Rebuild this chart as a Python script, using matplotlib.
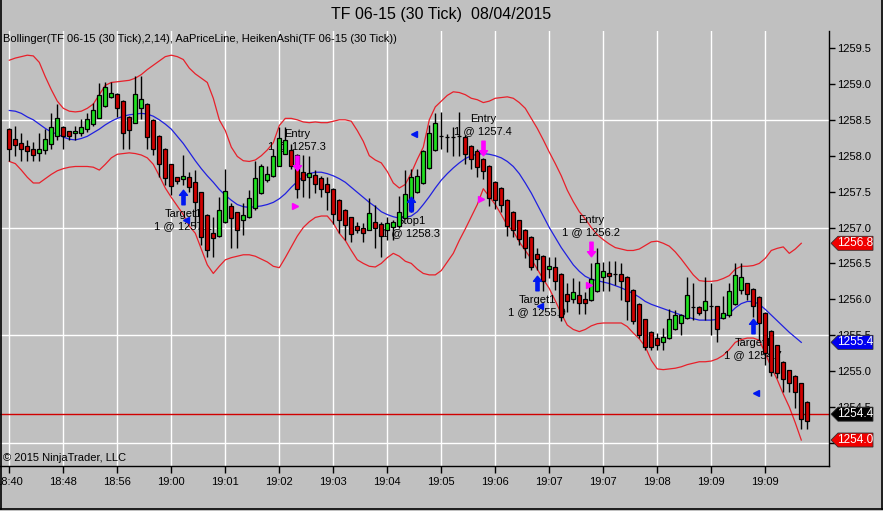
import matplotlib
matplotlib.use("Agg")
import matplotlib.pyplot as plt
import matplotlib.transforms as mtransforms
from matplotlib.path import Path
from matplotlib.patches import Polygon
from matplotlib.lines import Line2D
import numpy as np

plt.rcParams['font.family'] = ['Liberation Sans', 'DejaVu Sans']

# ---------------- data ----------------
title = "TF 06-15 (30 Tick)  08/04/2015"
indicator_label = "Bollinger(TF 06-15 (30 Tick),2,14), AaPriceLine, HeikenAshi(TF 06-15 (30 Tick))"
copyright_text = "\u00a9 2015 NinjaTrader, LLC"

tick_bars = [0, 9, 18, 27, 36, 45, 54, 63, 72, 81, 90, 99, 108, 117, 126]
tick_labels = ["18:40", "18:48", "18:56", "19:00", "19:01", "19:02", "19:03", "19:04",
               "19:05", "19:06", "19:07", "19:07", "19:08", "19:09", "19:09"]
price_ticks = [1254.0, 1254.5, 1255.0, 1255.5, 1256.0, 1256.5, 1257.0, 1257.5,
               1258.0, 1258.5, 1259.0, 1259.5]
grid_levels = [1254.0, 1255.5, 1257.0, 1258.5]

ha_open = [1258.37, 1258.23, 1258.18, 1258.14, 1258.10, 1258.04, 1258.08, 1258.16, 1258.28, 1258.40,
           1258.34, 1258.31, 1258.32, 1258.37, 1258.44, 1258.53, 1258.69, 1258.82, 1258.86, 1258.76,
           1258.54, 1258.46, 1258.66, 1258.72, 1258.50, 1258.28, 1258.10, 1257.88, 1257.70, 1257.67,
           1257.70, 1257.63, 1257.49, 1257.18, 1256.93, 1256.88, 1257.07, 1257.30, 1257.21, 1257.10,
           1257.14, 1257.27, 1257.48, 1257.66, 1257.72, 1257.86, 1258.03, 1258.08, 1258.01, 1257.77,
           1257.71, 1257.73, 1257.69, 1257.61, 1257.54, 1257.39, 1257.25, 1257.14, 1257.02, 1257.00,
           1256.97, 1257.08, 1257.05, 1256.97, 1257.01, 1257.02, 1257.13, 1257.25, 1257.50, 1257.62,
           1257.83, 1258.08, 1258.27, 1258.26, 1258.26, 1258.27, 1258.26, 1258.14, 1258.06, 1257.95,
           1257.86, 1257.64, 1257.55, 1257.39, 1257.22, 1257.10, 1256.97, 1256.87, 1256.63, 1256.60,
           1256.42, 1256.45, 1256.35, 1256.08, 1256.00, 1256.06, 1256.00, 1255.99, 1256.12, 1256.31,
           1256.36, 1256.35, 1256.35, 1256.31, 1256.13, 1255.94, 1255.72, 1255.55, 1255.46, 1255.41,
           1255.46, 1255.58, 1255.67, 1255.74, 1255.89, 1255.89, 1255.85, 1255.91, 1255.90, 1255.74,
           1255.78, 1255.93, 1256.13, 1256.22, 1256.15, 1256.03, 1255.81, 1255.56, 1255.36, 1255.13,
           1255.01, 1254.93, 1254.83, 1254.57]
ha_high = [1258.38, 1258.41, 1258.31, 1258.22, 1258.19, 1258.31, 1258.37, 1258.60, 1258.72, 1258.41,
           1258.35, 1258.41, 1258.51, 1258.60, 1258.73, 1259.01, 1259.02, 1259.02, 1258.87, 1258.77,
           1258.55, 1259.11, 1259.11, 1258.73, 1258.51, 1258.29, 1258.11, 1257.89, 1257.71, 1258.01,
           1257.78, 1257.80, 1257.50, 1257.19, 1257.15, 1257.43, 1257.81, 1257.34, 1257.22, 1257.34,
           1257.52, 1257.92, 1257.89, 1257.85, 1258.10, 1258.40, 1258.40, 1258.17, 1258.02, 1258.01,
           1257.99, 1257.80, 1257.72, 1257.71, 1257.55, 1257.40, 1257.26, 1257.15, 1257.08, 1257.06,
           1257.41, 1257.31, 1257.08, 1257.15, 1257.10, 1257.44, 1257.80, 1257.81, 1257.81, 1258.08,
           1258.43, 1258.59, 1258.61, 1258.30, 1258.40, 1258.61, 1258.29, 1258.15, 1258.10, 1257.97,
           1257.87, 1257.65, 1257.56, 1257.40, 1257.23, 1257.11, 1256.98, 1256.88, 1256.71, 1256.62,
           1256.59, 1256.59, 1256.36, 1256.22, 1256.29, 1256.25, 1256.10, 1256.50, 1256.71, 1256.52,
           1256.54, 1256.54, 1256.50, 1256.32, 1256.14, 1255.95, 1255.73, 1255.56, 1255.53, 1255.60,
           1255.87, 1255.85, 1255.80, 1256.31, 1256.22, 1255.90, 1256.31, 1256.22, 1255.91, 1256.05,
           1256.22, 1256.51, 1256.51, 1256.23, 1256.16, 1256.04, 1255.82, 1255.57, 1255.37, 1255.14,
           1255.02, 1254.94, 1254.84, 1254.58]
ha_low = [1257.92, 1258.00, 1257.92, 1257.92, 1257.92, 1257.92, 1258.02, 1258.09, 1258.22, 1258.10,
          1258.22, 1258.22, 1258.27, 1258.33, 1258.42, 1258.52, 1258.68, 1258.80, 1258.54, 1258.09,
          1258.09, 1258.45, 1258.51, 1258.09, 1258.01, 1257.71, 1257.59, 1257.45, 1257.60, 1257.59,
          1257.50, 1257.01, 1256.76, 1256.59, 1256.59, 1256.87, 1257.06, 1256.71, 1256.71, 1256.90,
          1257.13, 1257.24, 1257.46, 1257.64, 1257.71, 1257.85, 1258.02, 1257.82, 1257.41, 1257.43,
          1257.41, 1257.48, 1257.43, 1257.24, 1257.05, 1256.92, 1256.83, 1256.80, 1256.93, 1256.80,
          1256.96, 1256.71, 1256.59, 1256.83, 1256.83, 1257.00, 1257.12, 1257.22, 1257.48, 1257.60,
          1257.82, 1258.07, 1258.10, 1258.05, 1258.00, 1258.00, 1257.89, 1257.82, 1257.71, 1257.68,
          1257.30, 1257.26, 1257.22, 1256.88, 1256.87, 1256.76, 1256.57, 1256.41, 1256.41, 1256.11,
          1256.30, 1256.13, 1255.70, 1255.82, 1255.95, 1255.80, 1255.80, 1255.98, 1256.10, 1256.11,
          1256.11, 1256.20, 1255.99, 1255.71, 1255.66, 1255.46, 1255.29, 1255.30, 1255.29, 1255.29,
          1255.45, 1255.57, 1255.50, 1255.73, 1255.71, 1255.78, 1255.71, 1255.50, 1255.41, 1255.73,
          1255.76, 1255.92, 1256.08, 1255.99, 1255.76, 1255.43, 1255.08, 1254.93, 1254.90, 1254.71,
          1254.71, 1254.48, 1254.20, 1254.20]
ha_close = [1258.09, 1258.15, 1258.09, 1258.07, 1258.01, 1258.10, 1258.23, 1258.40, 1258.53, 1258.28,
            1258.27, 1258.34, 1258.40, 1258.51, 1258.63, 1258.85, 1258.96, 1258.88, 1258.66, 1258.31,
            1258.36, 1258.86, 1258.79, 1258.26, 1258.09, 1257.88, 1257.69, 1257.58, 1257.65, 1257.72,
            1257.56, 1257.35, 1256.87, 1256.68, 1256.85, 1257.25, 1257.51, 1257.13, 1256.97, 1257.18,
            1257.41, 1257.69, 1257.85, 1257.75, 1258.00, 1258.25, 1258.22, 1257.86, 1257.53, 1257.66,
            1257.76, 1257.61, 1257.53, 1257.50, 1257.19, 1257.10, 1257.03, 1256.91, 1256.97, 1256.93,
            1257.20, 1257.00, 1256.88, 1257.06, 1257.07, 1257.21, 1257.46, 1257.71, 1257.72, 1258.06,
            1258.31, 1258.45, 1258.27, 1258.26, 1258.26, 1258.27, 1258.03, 1257.95, 1257.84, 1257.79,
            1257.41, 1257.38, 1257.31, 1257.02, 1256.97, 1256.84, 1256.72, 1256.45, 1256.56, 1256.26,
            1256.46, 1256.26, 1255.76, 1255.97, 1256.10, 1255.95, 1255.95, 1256.28, 1256.50, 1256.40,
            1256.32, 1256.35, 1256.25, 1255.97, 1255.70, 1255.50, 1255.34, 1255.34, 1255.36, 1255.47,
            1255.72, 1255.78, 1255.78, 1256.06, 1255.89, 1255.81, 1255.98, 1255.91, 1255.58, 1255.81,
            1256.11, 1256.34, 1256.31, 1256.08, 1255.90, 1255.67, 1255.25, 1254.99, 1254.97, 1254.89,
            1254.84, 1254.71, 1254.33, 1254.30]

bb_upper = [1259.33, 1259.36, 1259.38, 1259.40, 1259.39, 1259.30, 1259.10, 1258.92, 1258.76, 1258.66,
            1258.62, 1258.61, 1258.62, 1258.66, 1258.72, 1258.85, 1258.98, 1259.02, 1259.03, 1259.04,
            1259.05, 1259.08, 1259.13, 1259.20, 1259.26, 1259.32, 1259.38, 1259.40, 1259.38, 1259.34,
            1259.22, 1259.14, 1259.08, 1259.02, 1258.80, 1258.50, 1258.35, 1258.12, 1257.99, 1257.93,
            1257.92, 1257.94, 1258.00, 1258.08, 1258.18, 1258.42, 1258.52, 1258.52, 1258.50, 1258.47,
            1258.46, 1258.47, 1258.46, 1258.46, 1258.48, 1258.50, 1258.50, 1258.48, 1258.35, 1258.20,
            1258.00, 1257.94, 1257.90, 1257.78, 1257.62, 1257.55, 1257.60, 1257.76, 1257.95, 1258.12,
            1258.50, 1258.68, 1258.76, 1258.84, 1258.89, 1258.88, 1258.85, 1258.80, 1258.78, 1258.74,
            1258.76, 1258.80, 1258.81, 1258.82, 1258.80, 1258.74, 1258.66, 1258.52, 1258.38, 1258.22,
            1258.05, 1257.89, 1257.72, 1257.52, 1257.36, 1257.22, 1257.12, 1257.00, 1256.90, 1256.83,
            1256.77, 1256.72, 1256.70, 1256.68, 1256.68, 1256.70, 1256.75, 1256.80, 1256.81, 1256.78,
            1256.74, 1256.66, 1256.56, 1256.45, 1256.34, 1256.26, 1256.25, 1256.25, 1256.26, 1256.29,
            1256.33, 1256.42, 1256.46, 1256.46, 1256.47, 1256.50, 1256.57, 1256.68, 1256.71, 1256.73,
            1256.64, 1256.70, 1256.78]
bb_middle = [1258.63, 1258.62, 1258.59, 1258.54, 1258.50, 1258.44, 1258.38, 1258.33, 1258.30, 1258.26,
             1258.23, 1258.22, 1258.24, 1258.27, 1258.32, 1258.37, 1258.43, 1258.48, 1258.52, 1258.55,
             1258.57, 1258.58, 1258.59, 1258.58, 1258.55, 1258.50, 1258.44, 1258.37, 1258.27, 1258.17,
             1258.05, 1257.93, 1257.82, 1257.72, 1257.63, 1257.53, 1257.45, 1257.38, 1257.32, 1257.29,
             1257.28, 1257.29, 1257.30, 1257.32, 1257.35, 1257.40, 1257.47, 1257.56, 1257.64, 1257.71,
             1257.75, 1257.77, 1257.77, 1257.75, 1257.72, 1257.68, 1257.63, 1257.56, 1257.49, 1257.42,
             1257.35, 1257.29, 1257.22, 1257.18, 1257.15, 1257.13, 1257.14, 1257.16, 1257.22, 1257.32,
             1257.43, 1257.55, 1257.66, 1257.75, 1257.83, 1257.90, 1257.96, 1258.00, 1258.02, 1258.03,
             1258.02, 1258.00, 1257.97, 1257.92, 1257.85, 1257.75, 1257.62, 1257.48, 1257.32, 1257.16,
             1257.00, 1256.86, 1256.72, 1256.60, 1256.48, 1256.39, 1256.32, 1256.28, 1256.26, 1256.24,
             1256.22, 1256.19, 1256.16, 1256.12, 1256.08, 1256.03, 1255.97, 1255.93, 1255.90, 1255.87,
             1255.84, 1255.81, 1255.78, 1255.75, 1255.73, 1255.71, 1255.71, 1255.71, 1255.72, 1255.75,
             1255.80, 1255.88, 1255.94, 1255.97, 1255.97, 1255.93, 1255.86, 1255.78, 1255.70, 1255.62,
             1255.54, 1255.47, 1255.40]
bb_lower = [1257.92, 1257.89, 1257.80, 1257.70, 1257.62, 1257.62, 1257.68, 1257.74, 1257.79, 1257.82,
            1257.84, 1257.85, 1257.85, 1257.85, 1257.84, 1257.80, 1257.88, 1257.97, 1258.02, 1258.03,
            1258.04, 1258.03, 1258.01, 1257.97, 1257.88, 1257.72, 1257.55, 1257.42, 1257.30, 1257.18,
            1257.02, 1256.92, 1256.70, 1256.48, 1256.36, 1256.46, 1256.55, 1256.58, 1256.60, 1256.62,
            1256.62, 1256.60, 1256.56, 1256.52, 1256.46, 1256.44, 1256.58, 1256.73, 1256.88, 1257.00,
            1257.08, 1257.14, 1257.16, 1257.16, 1257.06, 1256.92, 1256.82, 1256.68, 1256.55, 1256.50,
            1256.46, 1256.45, 1256.50, 1256.58, 1256.64, 1256.60, 1256.53, 1256.50, 1256.42, 1256.36,
            1256.34, 1256.34, 1256.40, 1256.52, 1256.64, 1256.82, 1256.98, 1257.15, 1257.32, 1257.54,
            1257.43, 1257.32, 1257.18, 1257.03, 1256.95, 1256.80, 1256.68, 1256.56, 1256.42, 1256.28,
            1256.15, 1255.98, 1255.80, 1255.64, 1255.58, 1255.55, 1255.58, 1255.63, 1255.66, 1255.67,
            1255.67, 1255.67, 1255.67, 1255.62, 1255.53, 1255.45, 1255.34, 1255.15, 1255.03, 1255.02,
            1255.03, 1255.04, 1255.06, 1255.09, 1255.11, 1255.13, 1255.13, 1255.14, 1255.17, 1255.22,
            1255.30, 1255.40, 1255.44, 1255.46, 1255.46, 1255.43, 1255.25, 1255.05, 1254.88, 1254.68,
            1254.50, 1254.28, 1254.04]
last_price = 1254.4

# executions (bar index, label, fill price, side) and arrow marker levels
exec_bar = [29, 48, 67, 79, 88, 97, 124]
exec_name = ["Target1", "Entry", "Stop1", "Entry", "Target1", "Entry", "Target1"]
exec_qty = [1, 1, 1, 1, 1, 1, 1]
exec_price = [1257.1, 1257.3, 1258.3, 1257.4, 1255.9, 1256.2, 1254.7]
exec_side = ["buy", "sell", "buy", "sell", "buy", "sell", "buy"]
arrow_level = [1257.42, 1257.90, 1257.33, 1258.11, 1256.23, 1256.70, 1255.63]

# ---------------- styling ----------------
BG = "#C0C0C0"
UP = "#1FE01F"
DOWN = "#D00000"
BAND = "#E8202A"
MID = "#2020E0"

W, H = 883, 511
fig = plt.figure(figsize=(W / 100, H / 100), dpi=100, facecolor=BG)
ax = fig.add_axes([0 / W, (H - 466) / H, 829 / W, (466 - 31) / H], facecolor=BG)

n = len(ha_open)
x = np.arange(n)
o = np.array(ha_open); c = np.array(ha_close)
hi = np.array(ha_high); lo = np.array(ha_low)

# grid
for g in grid_levels:
    ax.axhline(g, color="white", lw=1.0, zorder=0.5)
for tb in tick_bars:
    ax.axvline(tb, color="white", lw=1.0, zorder=0.5)

# bollinger
xb = np.arange(len(bb_upper))
ax.plot(xb, bb_upper, color=BAND, lw=0.9, zorder=2.0)
ax.plot(xb, bb_lower, color=BAND, lw=0.9, zorder=2.0)
ax.plot(xb, bb_middle, color=MID, lw=0.9, zorder=2.0)

# price line
ax.axhline(last_price, color="#D00000", lw=1.0, zorder=2.1)

# execution texts (behind candles)
for b, nm, q, p, sd, al in zip(exec_bar, exec_name, exec_qty, exec_price, exec_side, arrow_level):
    line2 = f"{q} @ {p:.1f}"
    if sd == "buy":
        offs = (-17, -29)
    else:
        offs = (29, 17)
    ax.annotate(nm, xy=(b, al), xytext=(0, offs[0]), textcoords="offset pixels",
                ha="center", va="center", fontsize=8, color="black", zorder=2.2)
    ax.annotate(line2, xy=(b, al), xytext=(0, offs[1]), textcoords="offset pixels",
                ha="center", va="center", fontsize=8, color="black", zorder=2.2)

# candles
ax.vlines(x, lo, hi, color="black", lw=1.0, zorder=2.5)
cols = [UP if cc > oo else DOWN for oo, cc in zip(o, c)]
bottoms = np.minimum(o, c)
heights = np.abs(c - o)
ax.bar(x, heights, bottom=bottoms, width=0.68, color=cols, edgecolor="black",
       linewidth=0.9, zorder=3)

# arrow markers
up_arrow = Path([(0, 1), (-0.55, 0.3), (-0.22, 0.3), (-0.22, -1), (0.22, -1), (0.22, 0.3),
                 (0.55, 0.3), (0, 1)],
                [Path.MOVETO] + [Path.LINETO] * 6 + [Path.CLOSEPOLY])
down_arrow = Path([(0, -1), (-0.55, -0.3), (-0.22, -0.3), (-0.22, 1), (0.22, 1), (0.22, -0.3),
                   (0.55, -0.3), (0, -1)],
                  [Path.MOVETO] + [Path.LINETO] * 6 + [Path.CLOSEPOLY])
for b, p, sd, al in zip(exec_bar, exec_price, exec_side, arrow_level):
    if sd == "buy":
        ax.plot([b], [al], marker=up_arrow, ms=10.5, color="#0018F0", mec="#0018F0", zorder=4)
        ax.plot([b + 0.5], [p], marker="<", ms=4.5, color="#0018F0", mec="#0018F0", zorder=4)
    else:
        ax.plot([b], [al], marker=down_arrow, ms=10.5, color="#FF00FF", mec="#FF00FF", zorder=4)
        ax.plot([b - 0.45], [p], marker=">", ms=4.5, color="#FF00FF", mec="#FF00FF", zorder=4)

# axes setup
ax.set_xlim(-1.55, 136.62)
ax.set_ylim(1253.678, 1259.737)
ax.set_xticks(tick_bars)
ax.set_xticklabels(tick_labels, fontsize=8)
ax.yaxis.tick_right()
ax.set_yticks(price_ticks)
ax.set_yticklabels([f"{v:.1f}" for v in price_ticks], fontsize=8)
ax.tick_params(axis="x", length=5, width=1, pad=3, colors="black")
ax.tick_params(axis="y", length=4, width=1, pad=2, colors="black")
for s in ["top", "left"]:
    ax.spines[s].set_visible(False)
for s in ["right", "bottom"]:
    ax.spines[s].set_color("black")
    ax.spines[s].set_linewidth(1.0)

# texts
ax.text(3 / 829, 1 - 8 / 435, indicator_label, transform=ax.transAxes, fontsize=8,
        ha="left", va="center", zorder=5)
ax.text(3 / 829, 8 / 435, copyright_text, transform=ax.transAxes, fontsize=8,
        ha="left", va="center", zorder=5)
fig.text(0.5, 1 - 14 / H, title, ha="center", va="center", fontsize=11.5)

# right-side price boxes (drawn over the tick labels)
blend = mtransforms.blended_transform_factory(ax.transAxes, ax.transData)
boxes = [(bb_upper[-1], "#F00000"), (bb_middle[-1], "#0000F0"), (last_price, "black"),
         (bb_lower[-1], "#F00000")]
for val, colr in boxes:
    tr = mtransforms.IdentityTransform() + mtransforms.ScaledTranslation(1.0, val, blend)
    verts = [(2, 0), (9, 7), (44, 7), (44, -7), (9, -7)]
    poly = Polygon(verts, closed=True, transform=tr, facecolor=colr, edgecolor="#303030",
                   lw=0.6, clip_on=False, zorder=10)
    fig.add_artist(poly)
    t = fig.text(26.5, 0, f"{val:.1f}", transform=tr, ha="center", va="center",
                 fontsize=8.5, color="white", zorder=11)

# figure frame
fig.add_artist(Line2D([0.5 / W, 0.5 / W], [(H - 509) / H, 1], color="black", lw=1.2,
                      transform=fig.transFigure))
fig.add_artist(Line2D([(W - 1) / W, (W - 1) / W], [(H - 509) / H, 1], color="black", lw=1.2,
                      transform=fig.transFigure))
fig.add_artist(Line2D([0, 1], [(H - 509) / H, (H - 509) / H], color="black", lw=1.2,
                      transform=fig.transFigure))

fig.savefig("out.png", dpi=100, facecolor=BG)
